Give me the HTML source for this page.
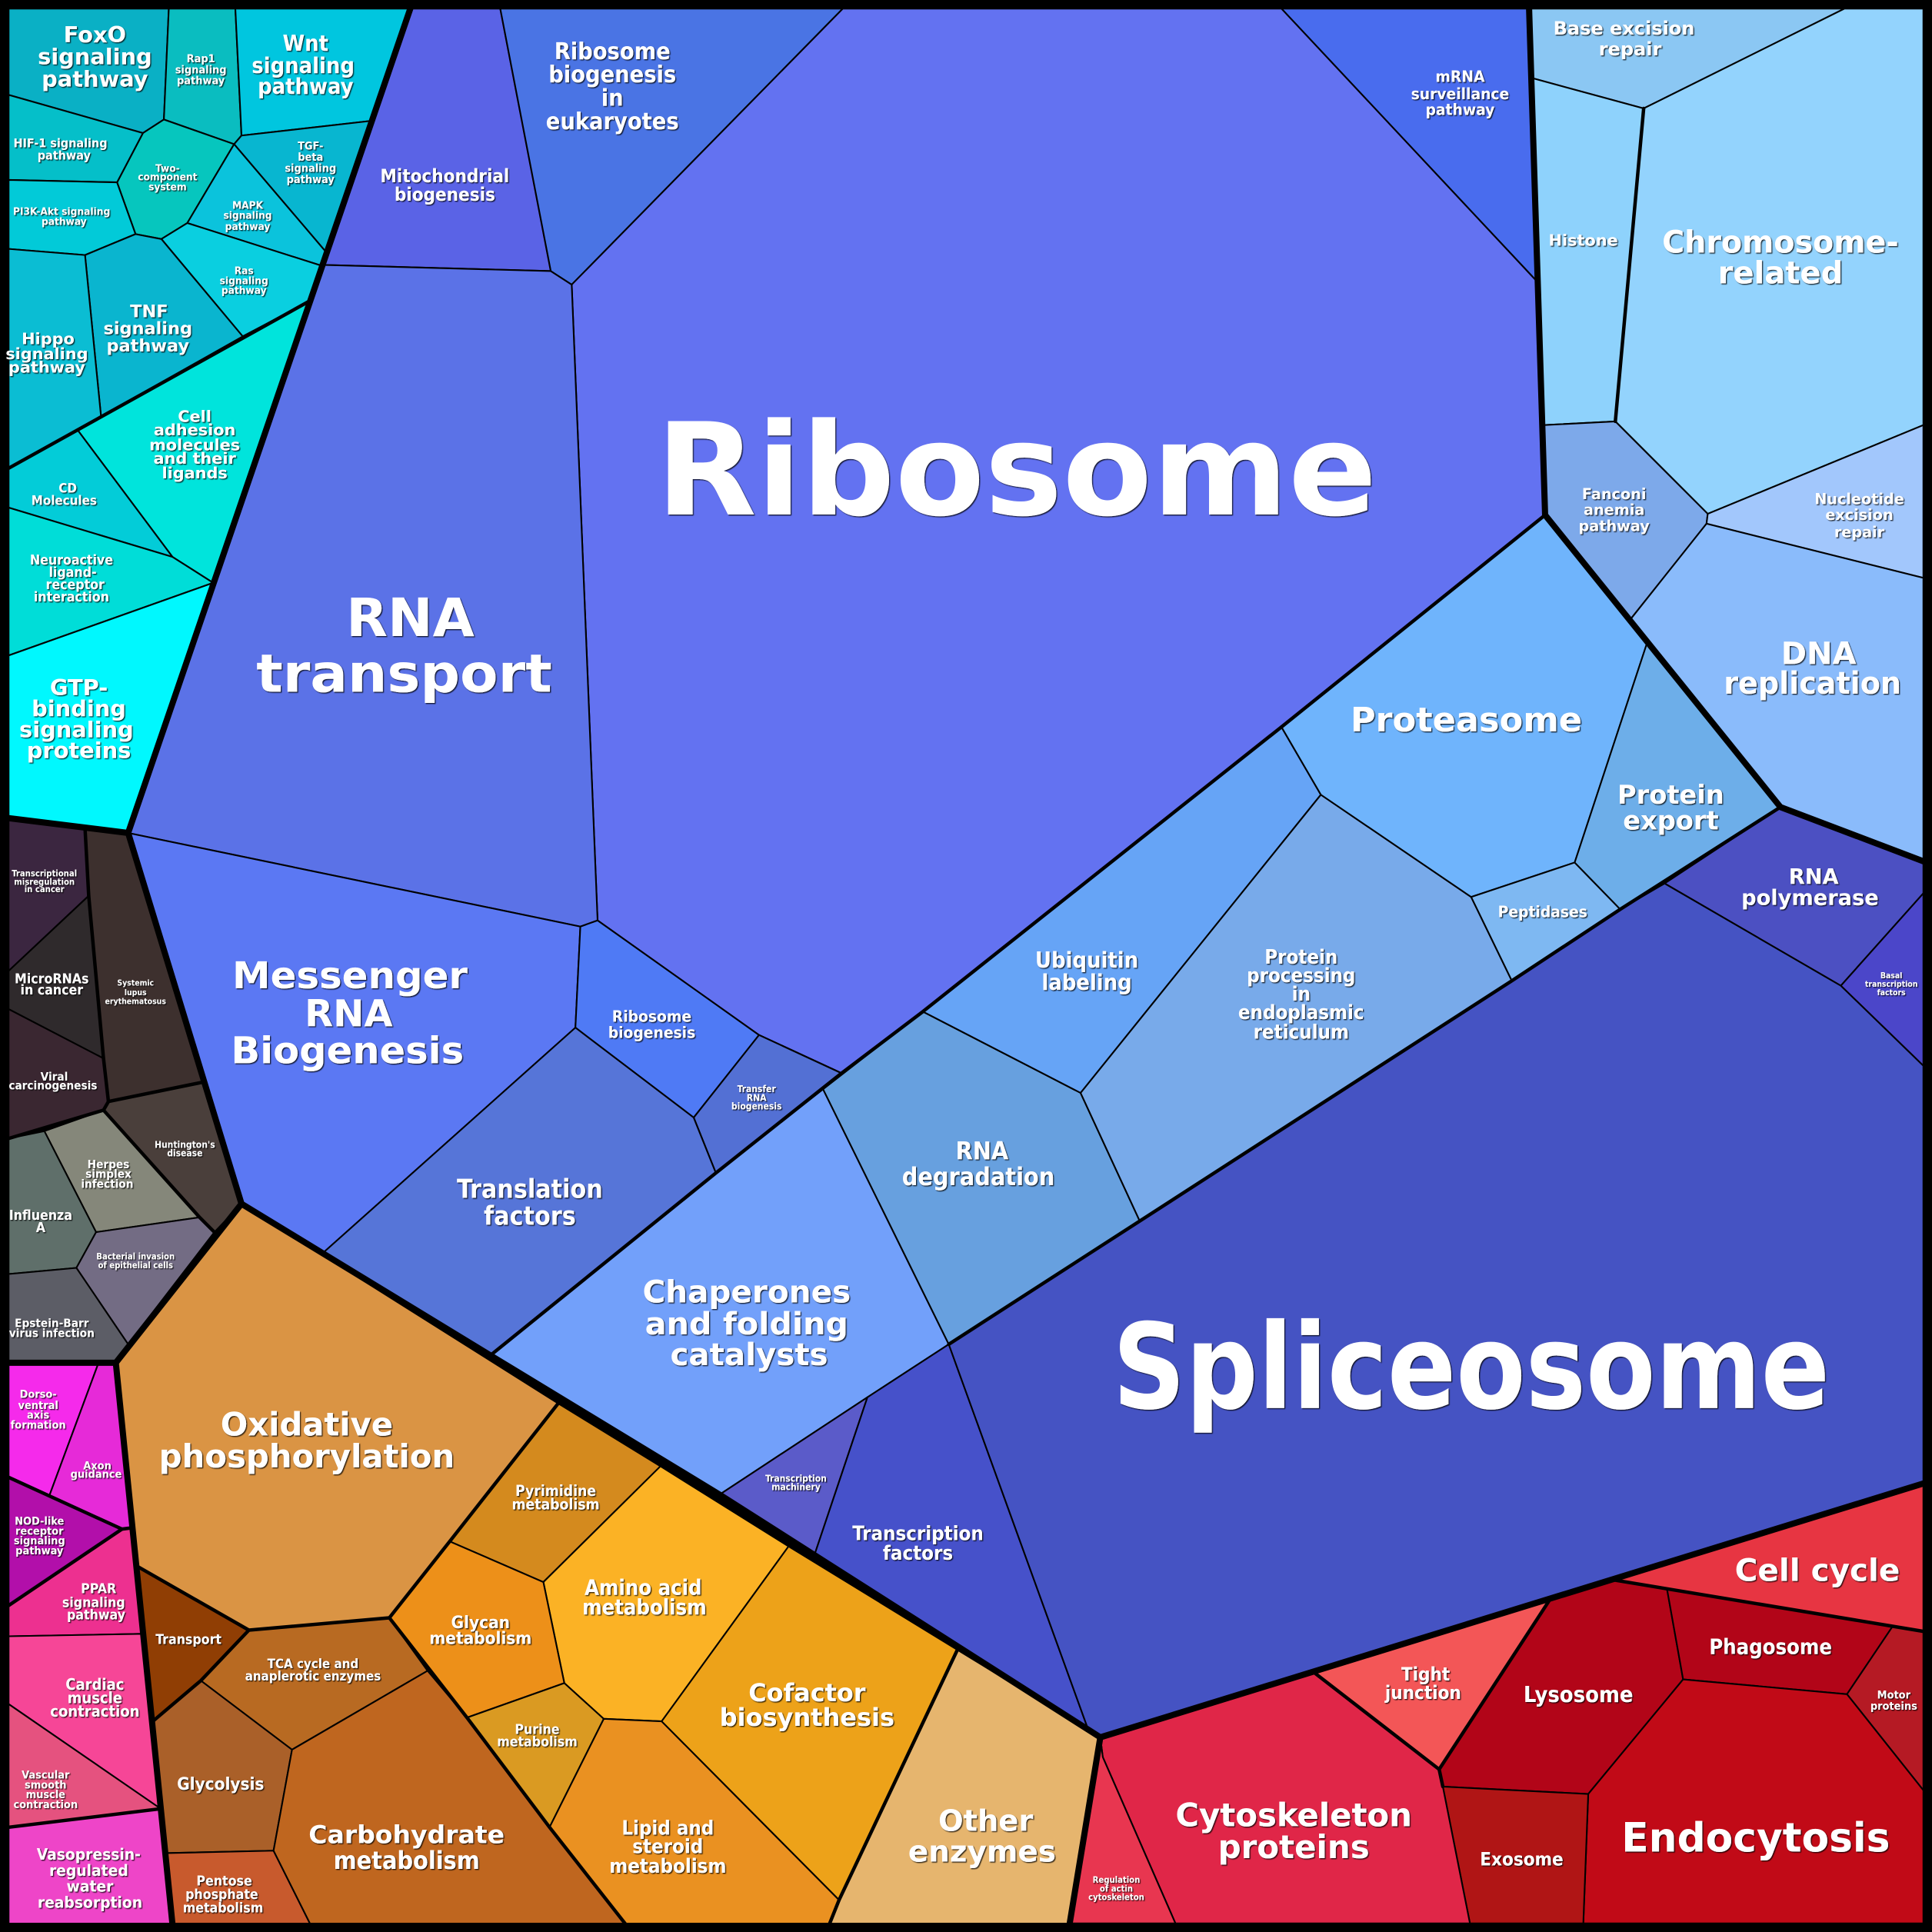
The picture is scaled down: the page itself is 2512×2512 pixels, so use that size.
<!DOCTYPE html>
<html><head><meta charset="utf-8"><style>
html,body{margin:0;padding:0;background:#000;}
svg{display:block;}
text{fill:#fff;font-weight:bold;text-anchor:middle;dominant-baseline:central;font-family:"DejaVu Sans Condensed","DejaVu Sans","Liberation Sans",sans-serif;font-stretch:condensed;filter:url(#sh);}
text.w{font-family:"DejaVu Sans","Liberation Sans",sans-serif;font-stretch:normal;}
polygon{stroke:#000;stroke-width:1.3;stroke-linejoin:round;}
.t{fill:none;stroke:#000;stroke-width:5;stroke-linejoin:round;stroke-linecap:round;}
.m{fill:none;stroke:#000;stroke-width:2.8;stroke-linejoin:round;stroke-linecap:round;}
</style></head><body>
<svg width="2512" height="2512" viewBox="0 0 1568 1568" xmlns="http://www.w3.org/2000/svg">
<defs><filter id="sh" x="-10%" y="-10%" width="120%" height="130%"><feDropShadow dx="0.8" dy="0.8" stdDeviation="0.4" flood-color="#000" flood-opacity="0.8"/></filter></defs>
<rect width="1568" height="1568" fill="#000"/>
<!-- teal -->
<polygon fill="#0AB0C5" points="7,7 137,7 133,97 116,108 7,77"/>
<polygon fill="#0ABDC0" points="137,7 191,7 196,110 190,117 133,97"/>
<polygon fill="#00C6DF" points="191,7 333,7 302,98 196,110"/>
<polygon fill="#08B6D0" points="196,110 302,98 265,205 190,117"/>
<polygon fill="#06C6BE" points="116,108 133,97 190,117 152,181 131,194 110,190 95,148"/>
<polygon fill="#05BFC9" points="7,77 116,108 95,148 7,146"/>
<polygon fill="#02CAD8" points="7,146 95,148 110,190 69,207 7,202"/>
<polygon fill="#0BC3DC" points="190,117 265,205 262,216 152,181"/>
<polygon fill="#0ACFE0" points="152,181 262,216 250,245 197,273 131,194"/>
<polygon fill="#0AB5CF" points="69,207 110,190 131,194 197,273 82,338"/>
<polygon fill="#0BBDD3" points="7,202 69,207 82,338 7,380"/>
<polygon fill="#00E4DC" points="63,349 250,245 173,473 140,452"/>
<polygon fill="#03CCD8" points="7,380 63,349 140,452 7,412"/>
<polygon fill="#00DDD8" points="7,412 140,452 173,473 7,532"/>
<polygon fill="#00F8FE" points="7,532 173,473 104,676 7,664"/>
<!-- dark -->
<polygon fill="#3B2640" points="7,664 69,672 72,727 7,788"/>
<polygon fill="#3D302E" points="69,672 104,676 166,878 88,894 84,859 72,727"/>
<polygon fill="#2F2A2C" points="7,788 72,727 84,859 7,819"/>
<polygon fill="#3A2731" points="7,819 84,859 88,894 84,901 7,924"/>
<polygon fill="#4A3F3B" points="88,894 166,878 196,977 174,1000 162,988 84,901"/>
<polygon fill="#85877A" points="36,918 84,901 162,988 78,1000"/>
<polygon fill="#5F6F6A" points="7,924 36,918 78,1000 62,1029 7,1034"/>
<polygon fill="#736C84" points="78,1000 162,988 174,1000 104,1091 62,1029"/>
<polygon fill="#5C5D66" points="7,1034 62,1029 104,1091 94,1106 7,1106"/>
<!-- pink -->
<polygon fill="#F52AEB" points="7,1106 80,1106 40,1214 7,1199"/>
<polygon fill="#E62AD8" points="80,1106 94,1106 107,1240 99,1241 40,1214"/>
<polygon fill="#B20FAA" points="7,1199 40,1214 99,1241 7,1303"/>
<polygon fill="#ED3090" points="7,1303 99,1241 107,1240 116,1326 7,1328"/>
<polygon fill="#F64697" points="7,1328 116,1326 129,1467 7,1383"/>
<polygon fill="#E5527F" points="7,1383 129,1467 130,1468 7,1483"/>
<polygon fill="#EE45C8" points="7,1483 130,1468 140,1562 7,1562"/>
<!-- orange -->
<polygon fill="#DA9444" points="196,977 453,1139 365,1251 316,1313 202,1323 111,1271 94,1106"/>
<polygon fill="#D48A1E" points="453,1139 536,1190 441,1284 365,1251"/>
<polygon fill="#FBB225" points="536,1190 640,1255 537,1397 490,1395 458,1366 441,1284"/>
<polygon fill="#ED9019" points="365,1251 441,1284 458,1366 379,1394 316,1313"/>
<polygon fill="#DA9A22" points="379,1394 458,1366 490,1395 446,1483"/>
<polygon fill="#EA9121" points="490,1395 537,1397 681,1542 673,1562 508,1562 446,1483"/>
<polygon fill="#EDA219" points="640,1255 777,1339 681,1542 537,1397"/>
<polygon fill="#E6B56E" points="777,1339 893,1410 868,1562 673,1562 681,1542"/>
<polygon fill="#903E04" points="111,1271 202,1323 163,1364 124,1397"/>
<polygon fill="#B86A22" points="202,1323 316,1313 347,1356 237,1420 163,1364"/>
<polygon fill="#AA6029" points="163,1364 237,1420 222,1502 135,1504 124,1397"/>
<polygon fill="#C85A2D" points="135,1504 222,1502 252,1562 140,1562"/>
<polygon fill="#BF661F" points="237,1420 347,1356 379,1394 446,1483 508,1562 252,1562 222,1502"/>
<!-- blue -->
<polygon fill="#5A63E6" points="333,7 406,7 447,220 262,215"/>
<polygon fill="#4A74E4" points="406,7 684,7 464,231 447,220"/>
<polygon fill="#496CEE" points="1040,7 1241,7 1247,228"/>
<polygon fill="#6372F1" points="684,7 1040,7 1247,228 1254,418 1040,590 749,821 683,871 616,840 485,747 464,231"/>
<polygon fill="#5B72E7" points="262,215 447,220 464,231 485,747 471,752 104,676"/>
<polygon fill="#5B78F3" points="104,676 471,752 467,834 262,1017 196,977"/>
<polygon fill="#4F7AF5" points="471,752 485,747 616,840 563,907 467,834"/>
<polygon fill="#5370D4" points="616,840 683,871 581,952 563,907"/>
<polygon fill="#5675D8" points="467,834 563,907 581,952 398,1100 262,1017"/>
<polygon fill="#72A0FA" points="398,1100 581,952 668,884 770,1091 704,1134 584,1213"/>
<polygon fill="#5B5BC9" points="584,1213 704,1134 661,1262"/>
<polygon fill="#4651CA" points="704,1134 770,1091 884,1406 893,1410 661,1262"/>
<polygon fill="#67A0DF" points="668,884 749,821 877,887 925,991 770,1091"/>
<polygon fill="#66A4F6" points="749,821 1040,590 1072,645 877,887"/>
<polygon fill="#78AAEA" points="877,887 1072,645 1194,728 1227,796 925,991"/>
<polygon fill="#6FB4FC" points="1040,590 1254,418 1337,521 1278,700 1194,728 1072,645"/>
<polygon fill="#7EB8F2" points="1194,728 1278,700 1315,738 1227,796"/>
<polygon fill="#6DAEE9" points="1278,700 1337,521 1445,655 1315,738"/>
<polygon fill="#4C50C2" points="1445,655 1561,698 1561,725 1494,800 1351,717"/>
<polygon fill="#4B46C9" points="1561,725 1561,865 1494,800"/>
<polygon fill="#4553C3" points="770,1091 925,991 1227,796 1315,738 1351,717 1494,800 1561,865 1561,1204 893,1410 884,1406"/>
<!-- DNA -->
<polygon fill="#8BC7F3" points="1241,7 1497,7 1334,88 1242,63"/>
<polygon fill="#93D3FD" points="1497,7 1561,7 1561,345 1386,417 1311,342 1334,88"/>
<polygon fill="#8ED2FC" points="1242,63 1334,88 1311,342 1253,345"/>
<polygon fill="#7DA9EA" points="1253,345 1311,342 1386,417 1385,425 1323,503 1254,418"/>
<polygon fill="#A2C7FC" points="1386,417 1561,345 1561,469 1385,425"/>
<polygon fill="#8ABBFB" points="1385,425 1561,469 1561,698 1445,655 1323,503"/>
<!-- red -->
<polygon fill="#E73542" points="1308,1282 1561,1204 1561,1324"/>
<polygon fill="#F35657" points="1066,1357 1258,1298 1168,1436"/>
<polygon fill="#B20518" points="1258,1298 1308,1282 1353,1290 1366,1363 1289,1456 1171,1450 1168,1436"/>
<polygon fill="#B20518" points="1353,1290 1536,1320 1499,1375 1366,1363"/>
<polygon fill="#B51A24" points="1536,1320 1561,1324 1561,1453 1499,1375"/>
<polygon fill="#C10A17" points="1366,1363 1499,1375 1561,1453 1561,1561 1285,1561 1289,1456"/>
<polygon fill="#B01515" points="1171,1450 1289,1456 1285,1561 1193,1561"/>
<polygon fill="#E02648" points="893,1410 1066,1357 1168,1436 1171,1450 1193,1561 954,1561 895,1426"/>
<polygon fill="#E83650" points="893,1410 895,1426 954,1561 868,1561"/>
<!-- medium lines -->
<polyline class="m" points="7,380 250,245"/>
<polyline class="m" points="7,924 84,901 88,894 166,878"/>
<polyline class="m" points="84,901 162,988 174,1000"/>
<polyline class="m" points="72,727 84,859 88,894"/>
<polyline class="m" points="69,672 72,727"/>
<polyline class="m" points="7,1199 99,1241 107,1240"/>
<polyline class="m" points="7,1303 99,1241"/>
<polyline class="m" points="7,1483 130,1468"/>
<polyline class="m" points="453,1139 365,1251 316,1313 202,1323 111,1271"/>
<polyline class="m" points="316,1313 379,1394 446,1483 508,1562"/>
<polyline class="m" points="202,1323 163,1364 124,1397"/>
<polyline class="m" points="777,1339 681,1542 673,1562"/>
<polyline class="m" points="1040,590 749,821 683,871 581,952 398,1100"/>
<polyline class="m" points="1040,590 1254,418"/>
<polyline class="m" points="770,1091 925,991 1227,796 1315,738 1445,655"/>
<polyline class="m" points="1308,1282 1561,1324"/>
<polyline class="m" points="1066,1357 1168,1436 1258,1298"/>
<polyline class="m" points="1168,1436 1171,1450"/>
<polyline class="m" points="1334,88 1311,342"/>
<!-- thick group borders -->
<polyline class="t" points="333,7 104,676"/>
<polyline class="t" points="7,664 104,676 196,977 94,1106 7,1106"/>
<polyline class="t" points="94,1106 140,1562"/>
<polyline class="t" points="196,977 398,1100 584,1213 893,1410 868,1562"/>
<polyline class="t" points="893,1410 1561,1204"/>
<polyline class="t" points="1241,7 1254,418 1445,655 1561,699"/>
<rect x="3.5" y="3.5" width="1561" height="1561" fill="none" stroke="#000" stroke-width="8"/>
<!-- labels -->
<g>
<text class="w" x="825" y="382" font-size="104" textLength="585" lengthAdjust="spacingAndGlyphs">Ribosome</text>
<text x="1194" y="1110" font-size="96" textLength="582" lengthAdjust="spacingAndGlyphs">Spliceosome</text>
<text class="w" x="333" y="502" font-size="43" textLength="104" lengthAdjust="spacingAndGlyphs">RNA</text>
<text class="w" x="328" y="547" font-size="43" textLength="240" lengthAdjust="spacingAndGlyphs">transport</text>
<text class="w" x="284" y="792" font-size="30" textLength="191" lengthAdjust="spacingAndGlyphs">Messenger</text>
<text class="w" x="283" y="823" font-size="30">RNA</text>
<text class="w" x="282" y="853" font-size="30" textLength="189" lengthAdjust="spacingAndGlyphs">Biogenesis</text>
<text x="430" y="965" font-size="21">Translation</text>
<text x="430" y="987" font-size="21">factors</text>
<text x="606" y="1049" font-size="25" textLength="169" lengthAdjust="spacingAndGlyphs">Chaperones</text>
<text x="606" y="1075" font-size="25" textLength="165" lengthAdjust="spacingAndGlyphs">and folding</text>
<text x="608" y="1100" font-size="25" textLength="128" lengthAdjust="spacingAndGlyphs">catalysts</text>
<text x="529" y="825" font-size="13">Ribosome</text>
<text x="529" y="838" font-size="13">biogenesis</text>
<text x="614" y="884" font-size="7.5">Transfer</text>
<text x="614" y="891" font-size="7.5">RNA</text>
<text x="614" y="898" font-size="7.5">biogenesis</text>
<text x="361" y="143" font-size="15">Mitochondrial</text>
<text x="361" y="158" font-size="15">biogenesis</text>
<text x="497" y="42" font-size="19">Ribosome</text>
<text x="497" y="61" font-size="19">biogenesis</text>
<text x="497" y="80" font-size="19">in</text>
<text x="497" y="99" font-size="19">eukaryotes</text>
<text x="1185" y="62" font-size="13">mRNA</text>
<text x="1185" y="76" font-size="13">surveillance</text>
<text x="1185" y="89" font-size="13">pathway</text>
<text class="w" x="1190" y="585" font-size="27" textLength="188" lengthAdjust="spacingAndGlyphs">Proteasome</text>
<text class="w" x="1356" y="645" font-size="21">Protein</text>
<text class="w" x="1356" y="666" font-size="21">export</text>
<text x="1252" y="740" font-size="13">Peptidases</text>
<text x="882" y="779" font-size="18">Ubiquitin</text>
<text x="882" y="797" font-size="18">labeling</text>
<text x="1056" y="777" font-size="16">Protein</text>
<text x="1056" y="792" font-size="16">processing</text>
<text x="1056" y="807" font-size="16">in</text>
<text x="1056" y="822" font-size="16">endoplasmic</text>
<text x="1056" y="838" font-size="16">reticulum</text>
<text x="797" y="934" font-size="20">RNA</text>
<text x="794" y="955" font-size="20">degradation</text>
<text x="745" y="1245" font-size="16">Transcription</text>
<text x="745" y="1261" font-size="16">factors</text>
<text x="646" y="1200" font-size="7.5">Transcription</text>
<text x="646" y="1207" font-size="7.5">machinery</text>
<text class="w" x="1472" y="712" font-size="17">RNA</text>
<text class="w" x="1469" y="729" font-size="17">polymerase</text>
<text x="1535" y="792" font-size="6.5">Basal</text>
<text x="1535" y="799" font-size="6.5">transcription</text>
<text x="1535" y="806" font-size="6.5">factors</text>
<text class="w" x="1318" y="23" font-size="15">Base excision</text>
<text class="w" x="1323" y="40" font-size="15">repair</text>
<text class="w" x="1285" y="195" font-size="13">Histone</text>
<text class="w" x="1445" y="197" font-size="25" textLength="192" lengthAdjust="spacingAndGlyphs">Chromosome-</text>
<text class="w" x="1445" y="222" font-size="25">related</text>
<text class="w" x="1310" y="401" font-size="12">Fanconi</text>
<text class="w" x="1310" y="414" font-size="12">anemia</text>
<text class="w" x="1310" y="427" font-size="12">pathway</text>
<text class="w" x="1509" y="405" font-size="12">Nucleotide</text>
<text class="w" x="1509" y="418" font-size="12">excision</text>
<text class="w" x="1509" y="432" font-size="12">repair</text>
<text class="w" x="1476" y="531" font-size="25">DNA</text>
<text class="w" x="1471" y="555" font-size="25" textLength="144" lengthAdjust="spacingAndGlyphs">replication</text>
<!-- teal -->
<text class="w" x="77" y="28" font-size="18">FoxO</text>
<text class="w" x="77" y="46" font-size="18">signaling</text>
<text class="w" x="77" y="64" font-size="18">pathway</text>
<text x="163" y="48" font-size="9">Rap1</text>
<text x="163" y="57" font-size="9">signaling</text>
<text x="163" y="66" font-size="9">pathway</text>
<text x="248" y="35" font-size="18">Wnt</text>
<text x="246" y="53" font-size="18">signaling</text>
<text x="248" y="70" font-size="18">pathway</text>
<text x="49" y="116" font-size="10">HIF-1 signaling</text>
<text x="52" y="126" font-size="10">pathway</text>
<text x="136" y="137" font-size="8.5">Two-</text>
<text x="136" y="144" font-size="8.5">component</text>
<text x="136" y="152" font-size="8.5">system</text>
<text x="252" y="119" font-size="9">TGF-</text>
<text x="252" y="128" font-size="9">beta</text>
<text x="252" y="137" font-size="9">signaling</text>
<text x="252" y="146" font-size="9">pathway</text>
<text x="201" y="167" font-size="8.5">MAPK</text>
<text x="201" y="175" font-size="8.5">signaling</text>
<text x="201" y="184" font-size="8.5">pathway</text>
<text x="50" y="172" font-size="8.5">PI3K-Akt signaling</text>
<text x="52" y="180" font-size="8.5">pathway</text>
<text x="198" y="220" font-size="8.5">Ras</text>
<text x="198" y="228" font-size="8.5">signaling</text>
<text x="198" y="236" font-size="8.5">pathway</text>
<text class="w" x="121" y="253" font-size="14">TNF</text>
<text class="w" x="120" y="267" font-size="14">signaling</text>
<text class="w" x="120" y="281" font-size="14">pathway</text>
<text class="w" x="39" y="275" font-size="13">Hippo</text>
<text class="w" x="38" y="287" font-size="13">signaling</text>
<text class="w" x="38" y="298" font-size="13">pathway</text>
<text class="w" x="158" y="338" font-size="13">Cell</text>
<text class="w" x="158" y="349" font-size="13">adhesion</text>
<text class="w" x="158" y="361" font-size="13">molecules</text>
<text class="w" x="158" y="372" font-size="13">and their</text>
<text class="w" x="158" y="384" font-size="13">ligands</text>
<text x="55" y="396" font-size="10.5">CD</text>
<text x="52" y="406" font-size="10.5">Molecules</text>
<text x="58" y="455" font-size="11">Neuroactive</text>
<text x="59" y="465" font-size="11">ligand-</text>
<text x="61" y="475" font-size="11">receptor</text>
<text x="58" y="485" font-size="11">interaction</text>
<text class="w" x="64" y="558" font-size="18">GTP-</text>
<text class="w" x="64" y="575" font-size="18">binding</text>
<text class="w" x="62" y="592" font-size="18">signaling</text>
<text class="w" x="64" y="609" font-size="18">proteins</text>
<!-- dark -->
<text x="36" y="709" font-size="7">Transcriptional</text>
<text x="36" y="716" font-size="7">misregulation</text>
<text x="36" y="722" font-size="7">in cancer</text>
<text x="42" y="795" font-size="11">MicroRNAs</text>
<text x="42" y="804" font-size="11">in cancer</text>
<text x="110" y="798" font-size="6.5">Systemic</text>
<text x="110" y="806" font-size="6.5">lupus</text>
<text x="110" y="813" font-size="6.5">erythematosus</text>
<text x="44" y="874" font-size="9.5">Viral</text>
<text x="43" y="881" font-size="9.5">carcinogenesis</text>
<text x="150" y="929" font-size="7.5">Huntington's</text>
<text x="150" y="936" font-size="7.5">disease</text>
<text x="88" y="945" font-size="9.5">Herpes</text>
<text x="88" y="953" font-size="9.5">simplex</text>
<text x="87" y="961" font-size="9.5">infection</text>
<text x="33" y="987" font-size="11">Influenza</text>
<text x="33" y="997" font-size="11">A</text>
<text x="110" y="1020" font-size="7">Bacterial invasion</text>
<text x="110" y="1027" font-size="7">of epithelial cells</text>
<text x="42" y="1074" font-size="9.5">Epstein-Barr</text>
<text x="42" y="1082" font-size="9.5">virus infection</text>
<!-- pink -->
<text x="31" y="1132" font-size="9">Dorso-</text>
<text x="31" y="1141" font-size="9">ventral</text>
<text x="31" y="1149" font-size="9">axis</text>
<text x="31" y="1157" font-size="9">formation</text>
<text x="79" y="1190" font-size="9">Axon</text>
<text x="78" y="1197" font-size="9">guidance</text>
<text x="32" y="1235" font-size="9">NOD-like</text>
<text x="32" y="1243" font-size="9">receptor</text>
<text x="32" y="1251" font-size="9">signaling</text>
<text x="32" y="1259" font-size="9">pathway</text>
<text x="80" y="1290" font-size="11">PPAR</text>
<text x="76" y="1301" font-size="11">signaling</text>
<text x="78" y="1311" font-size="11">pathway</text>
<text x="77" y="1367" font-size="12.5">Cardiac</text>
<text x="77" y="1378" font-size="12.5">muscle</text>
<text x="77" y="1389" font-size="12.5">contraction</text>
<text x="37" y="1441" font-size="9">Vascular</text>
<text x="37" y="1449" font-size="9">smooth</text>
<text x="37" y="1457" font-size="9">muscle</text>
<text x="37" y="1465" font-size="9">contraction</text>
<text x="72" y="1505" font-size="13">Vasopressin-</text>
<text x="72" y="1518" font-size="13">regulated</text>
<text x="73" y="1531" font-size="13">water</text>
<text x="73" y="1544" font-size="13">reabsorption</text>
<!-- orange -->
<text x="249" y="1156" font-size="26" textLength="140" lengthAdjust="spacingAndGlyphs">Oxidative</text>
<text x="249" y="1182" font-size="26" textLength="240" lengthAdjust="spacingAndGlyphs">phosphorylation</text>
<text x="451" y="1210" font-size="12">Pyrimidine</text>
<text x="451" y="1221" font-size="12">metabolism</text>
<text x="522" y="1289" font-size="17">Amino acid</text>
<text x="523" y="1305" font-size="17">metabolism</text>
<text x="390" y="1317" font-size="14">Glycan</text>
<text x="390" y="1330" font-size="14">metabolism</text>
<text x="436" y="1404" font-size="11">Purine</text>
<text x="436" y="1414" font-size="11">metabolism</text>
<text x="542" y="1484" font-size="16">Lipid and</text>
<text x="542" y="1499" font-size="16">steroid</text>
<text x="542" y="1515" font-size="16">metabolism</text>
<text x="655" y="1374" font-size="20" textLength="95" lengthAdjust="spacingAndGlyphs">Cofactor</text>
<text x="655" y="1394" font-size="20" textLength="142" lengthAdjust="spacingAndGlyphs">biosynthesis</text>
<text x="800" y="1478" font-size="24" textLength="77" lengthAdjust="spacingAndGlyphs">Other</text>
<text x="797" y="1503" font-size="24" textLength="120" lengthAdjust="spacingAndGlyphs">enzymes</text>
<text x="153" y="1331" font-size="11">Transport</text>
<text x="254" y="1350" font-size="10.5">TCA cycle and</text>
<text x="254" y="1360" font-size="10.5">anaplerotic enzymes</text>
<text x="179" y="1448" font-size="14">Glycolysis</text>
<text x="330" y="1489" font-size="20" textLength="159" lengthAdjust="spacingAndGlyphs">Carbohydrate</text>
<text x="330" y="1510" font-size="20">metabolism</text>
<text x="182" y="1527" font-size="11">Pentose</text>
<text x="180" y="1538" font-size="11">phosphate</text>
<text x="181" y="1549" font-size="11">metabolism</text>
<!-- red -->
<text x="1475" y="1275" font-size="25" textLength="134" lengthAdjust="spacingAndGlyphs">Cell cycle</text>
<text x="1157" y="1359" font-size="15">Tight</text>
<text x="1155" y="1374" font-size="15">junction</text>
<text x="1281" y="1375" font-size="18">Lysosome</text>
<text x="1437" y="1337" font-size="17">Phagosome</text>
<text x="1537" y="1376" font-size="9">Motor</text>
<text x="1537" y="1385" font-size="9">proteins</text>
<text x="1050" y="1473" font-size="26" textLength="192" lengthAdjust="spacingAndGlyphs">Cytoskeleton</text>
<text x="1050" y="1499" font-size="26" textLength="123" lengthAdjust="spacingAndGlyphs">proteins</text>
<text x="906" y="1526" font-size="7">Regulation</text>
<text x="906" y="1533" font-size="7">of actin</text>
<text x="906" y="1540" font-size="7">cytoskeleton</text>
<text x="1235" y="1509" font-size="15">Exosome</text>
<text x="1425" y="1492" font-size="33" textLength="218" lengthAdjust="spacingAndGlyphs">Endocytosis</text>
</g>
</svg>
</body></html>
